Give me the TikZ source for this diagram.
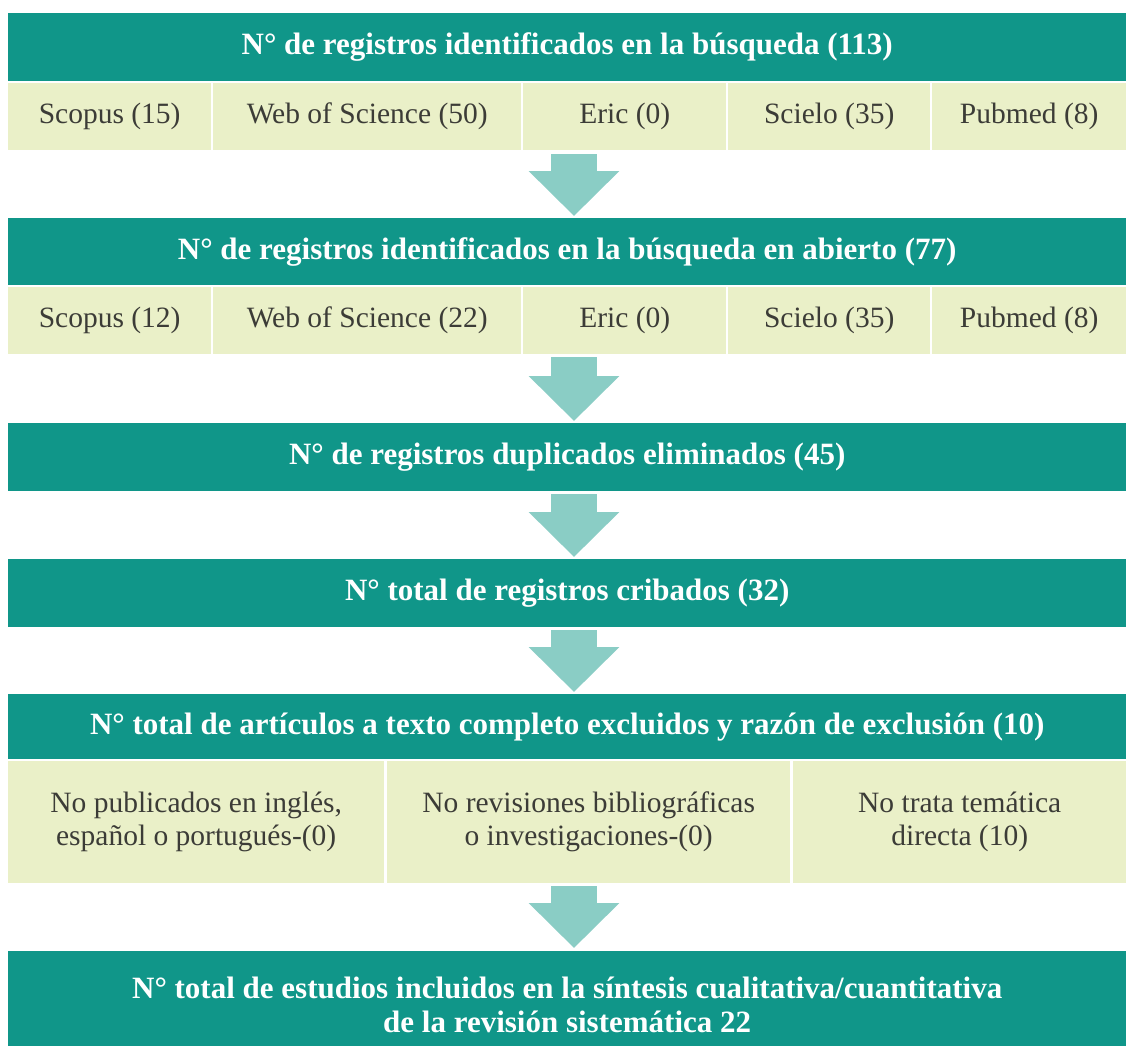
\documentclass[tikz,border=0pt]{standalone}
\usepackage{fontspec}
\setmainfont{Liberation Serif}
\usetikzlibrary{arrows.meta,calc}
\definecolor{teal1}{RGB}{16,150,137}
\definecolor{cellc}{RGB}{234,240,200}
\definecolor{arrc}{RGB}{138,205,197}
\definecolor{txt}{RGB}{60,60,55}
\begin{document}
\begin{tikzpicture}[x=1pt,y=-1pt,
  hdr/.style={fill=teal1, text=white, font=\fontsize{31}{34}\selectfont\bfseries, anchor=north west, inner sep=0pt, align=center},
  cell/.style={fill=cellc, text=txt, font=\fontsize{29.5}{33}\selectfont, anchor=north west, inner sep=0pt, align=center},
  flow/.style={draw=arrc, line width=46pt, -{Triangle[width=88pt,length=45pt]}}]
\useasboundingbox[fill=white] (0,0) rectangle (1126,1045);
\coordinate (ax) at (574,0);
% box 1
\node[hdr, minimum width=1118pt, minimum height=68pt] (h1) at (8,13) {N° de registros identificados en la búsqueda (113)};
\node[cell, minimum width=203pt, minimum height=67pt] (a1) at (8,83) {Scopus (15)};
\node[cell, minimum width=308pt, minimum height=67pt] (a2) at (213,83) {Web of Science (50)};
\node[cell, minimum width=203pt, minimum height=67pt] (a3) at (523,83) {Eric (0)};
\node[cell, minimum width=202pt, minimum height=67pt] (a4) at (728,83) {Scielo (35)};
\node[cell, minimum width=194pt, minimum height=67pt] (a5) at (932,83) {Pubmed (8)};
% box 2
\node[hdr, minimum width=1118pt, minimum height=67pt] (h2) at (8,218) {N° de registros identificados en la búsqueda en abierto (77)};
\node[cell, minimum width=203pt, minimum height=67pt] (b1) at (8,287) {Scopus (12)};
\node[cell, minimum width=308pt, minimum height=67pt] (b2) at (213,287) {Web of Science (22)};
\node[cell, minimum width=203pt, minimum height=67pt] (b3) at (523,287) {Eric (0)};
\node[cell, minimum width=202pt, minimum height=67pt] (b4) at (728,287) {Scielo (35)};
\node[cell, minimum width=194pt, minimum height=67pt] (b5) at (932,287) {Pubmed (8)};
% box 3, 4
\node[hdr, minimum width=1118pt, minimum height=68pt] (h3) at (8,423) {N° de registros duplicados eliminados (45)};
\node[hdr, minimum width=1118pt, minimum height=68pt] (h4) at (8,559) {N° total de registros cribados (32)};
% box 5
\node[hdr, minimum width=1118pt, minimum height=65pt] (h5) at (8,694) {N° total de artículos a texto completo excluidos y razón de exclusión (10)};
\node[cell, minimum width=376pt, minimum height=122pt] (c1) at (8,761) {No publicados en inglés,\\español o portugués-(0)};
\node[cell, minimum width=403pt, minimum height=122pt] (c2) at (387,761) {No revisiones bibliográficas\\o investigaciones-(0)};
\node[cell, minimum width=333pt, minimum height=122pt] (c3) at (793,761) {No trata temática\\directa (10)};
% box 6 (runs past the lower edge)
\node[hdr, minimum width=1118pt, minimum height=108pt] (h6) at (8,951) {N° total de estudios incluidos en la síntesis cualitativa/cuantitativa\\de la revisión sistemática 22};
% arrows
\draw[flow] ($(a3.south -| ax)+(0,4)$) -- ($(h2.north -| ax)+(0,-2)$);
\draw[flow] ($(b3.south -| ax)+(0,3)$) -- ($(h3.north -| ax)+(0,-2)$);
\draw[flow] ($(h3.south -| ax)+(0,3)$) -- ($(h4.north -| ax)+(0,-2)$);
\draw[flow] ($(h4.south -| ax)+(0,3)$) -- ($(h5.north -| ax)+(0,-2)$);
\draw[flow] ($(c2.south -| ax)+(0,3)$) -- ($(h6.north -| ax)+(0,-3)$);
\end{tikzpicture}
\end{document}
